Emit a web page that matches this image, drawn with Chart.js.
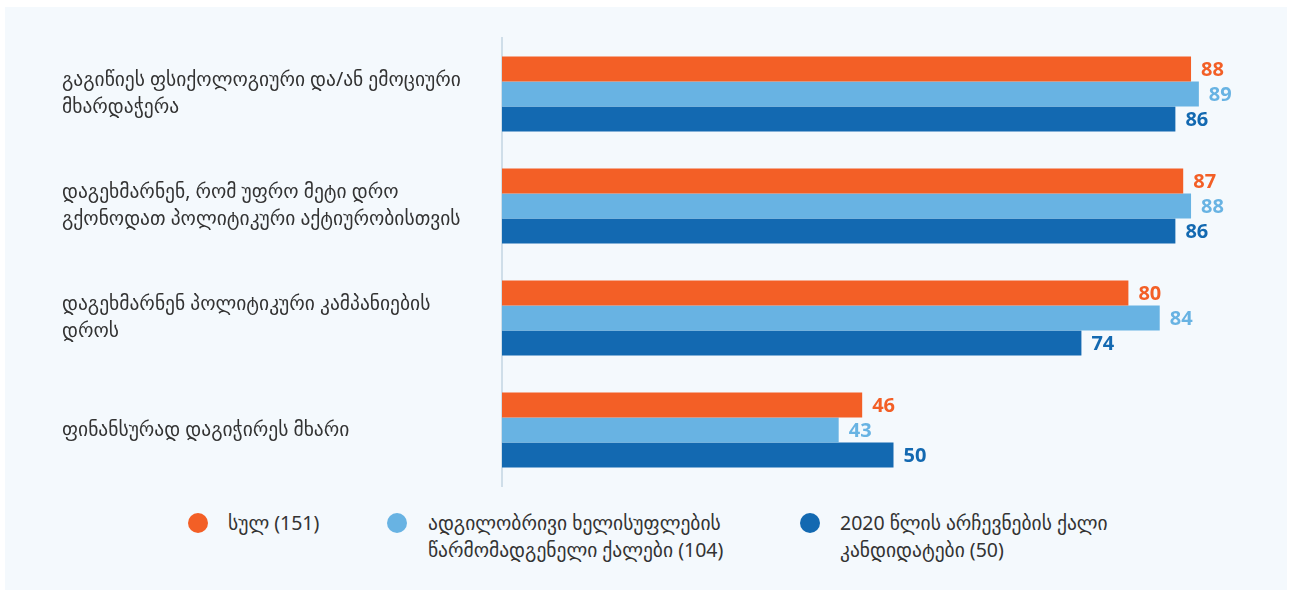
<!DOCTYPE html>
<html>
<head>
<meta charset="utf-8">
<script src="https://cdn.jsdelivr.net/npm/chart.js@4"></script>
<style>
    html, body { margin: 0; padding: 0; background: #ffffff; }
    body { width: 1289px; height: 590px; position: relative; overflow: hidden;
           font-family: "Noto Sans", "DejaVu Sans", sans-serif; }
    .panel { position: absolute; left: 5px; top: 7px; width: 1282px; height: 583px; background: #f4f9fd; }
    #chartWrap { position: absolute; left: 0; top: 0; width: 1289px; height: 500px; }
    .legend-item { position: absolute; font-size: 19.5px; line-height: 27px; color: #333333; }
    .legend-dot { position: absolute; width: 20px; height: 20px; border-radius: 50%; }
</style>
</head>
<body>
<div class="panel"></div>
<div id="chartWrap"><canvas id="mainChart" width="1289" height="500"></canvas></div>
<div id="legend"></div>

<script>
// категории (подписи по оси Y, по строкам)
const categories = [
    ['გაგიწიეს ფსიქოლოგიური და/ან ემოციური', 'მხარდაჭერა'],
    ['დაგეხმარნენ, რომ უფრო მეტი დრო', 'გქონოდათ პოლიტიკური აქტიურობისთვის'],
    ['დაგეხმარნენ პოლიტიკური კამპანიების', 'დროს'],
    ['ფინანსურად დაგიჭირეს მხარი']
];

// ряды данных
const totalValues = [88, 87, 80, 46];
const localGovValues = [89, 88, 84, 43];
const candidateValues = [86, 86, 74, 50];

const seriesNames = [
    ['სულ (151)'],
    ['ადგილობრივი ხელისუფლების', 'წარმომადგენელი ქალები (104)'],
    ['2020 წლის არჩევნების ქალი', 'კანდიდატები (50)']
];
const seriesColors = ['#f35f26', '#68b3e3', '#1369b1'];

// подписи значений справа от столбцов
const valueLabels = {
    id: 'valueLabels',
    afterDatasetsDraw(chart) {
        const ctx = chart.ctx;
        ctx.save();
        ctx.font = 'bold 20px "Open Sans", "Noto Sans", sans-serif';
        ctx.textAlign = 'left';
        ctx.textBaseline = 'middle';
        chart.data.datasets.forEach((ds, i) => {
            const meta = chart.getDatasetMeta(i);
            ctx.fillStyle = ds.backgroundColor;
            meta.data.forEach((bar, j) => {
                ctx.fillText(String(ds.data[j]), bar.x + 10, bar.y + 1);
            });
        });
        ctx.restore();
    }
};

const ctx = document.getElementById('mainChart').getContext('2d');
new Chart(ctx, {
    type: 'bar',
    data: {
        labels: categories,
        datasets: [
            { label: seriesNames[0].join(' '), data: totalValues, backgroundColor: seriesColors[0] },
            { label: seriesNames[1].join(' '), data: localGovValues, backgroundColor: seriesColors[1] },
            { label: seriesNames[2].join(' '), data: candidateValues, backgroundColor: seriesColors[2] }
        ]
    },
    options: {
        indexAxis: 'y',
        responsive: false,
        animation: false,
        layout: { padding: { left: 62, right: 4, top: 38, bottom: 14 } },
        datasets: { bar: { categoryPercentage: 0.67, barPercentage: 1.0, borderWidth: 0 } },
        plugins: {
            legend: { display: false },
            tooltip: { enabled: false }
        },
        scales: {
            x: { display: false, min: 0, max: 100 },
            y: {
                grid: { display: false },
                border: { display: true, color: '#cfdee9', width: 2 },
                ticks: {
                    crossAlign: 'far',
                    color: '#333333',
                    font: { family: '"Noto Sans", "DejaVu Sans", sans-serif', size: 19.5, lineHeight: 1.4 }
                },
                afterFit: function(scale) {
                    scale.width = 440;
                    scale.paddingTop = 0;
                    scale.paddingBottom = 0;
                }
            }
        }
    },
    plugins: [valueLabels]
});

// легенда
const legendPos = [
    { dot: 188, text: 228 },
    { dot: 387, text: 428 },
    { dot: 800, text: 840 }
];
const legendEl = document.getElementById('legend');
seriesNames.forEach((name, i) => {
    const dot = document.createElement('div');
    dot.className = 'legend-dot';
    dot.style.left = legendPos[i].dot + 'px';
    dot.style.top = '513px';
    dot.style.background = seriesColors[i];
    legendEl.appendChild(dot);

    const item = document.createElement('div');
    item.className = 'legend-item';
    item.style.left = legendPos[i].text + 'px';
    item.style.top = '509px';
    item.innerHTML = name.join('<br>');
    legendEl.appendChild(item);
});
</script>
</body>
</html>
